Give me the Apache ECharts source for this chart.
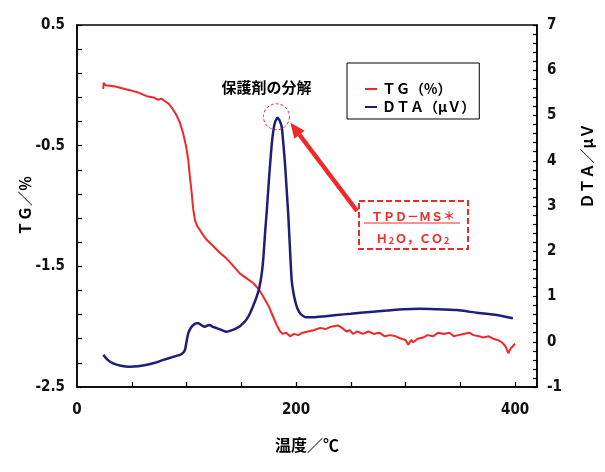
<!DOCTYPE html>
<html>
<head>
<meta charset="utf-8">
<script src="https://cdn.jsdelivr.net/npm/echarts@6/dist/echarts.min.js"></script>
<style>
  html, body { margin: 0; padding: 0; background: #fff; }
  #chart { width: 605px; height: 472px; }
</style>
</head>
<body>
<div id="chart"></div>
<script>
// TG curve (temperature / °C, TG / %)
var tgTemp = [24, 24.3, 26, 35, 48, 56, 63.6, 70, 74, 77, 80, 83.4, 87, 91, 94, 97, 99.5, 101.6, 103, 104.7,
  106, 107.7, 110, 112.3, 115, 118.4, 124, 130.6, 136, 142, 148.8, 155, 161, 166, 170, 175, 179.2, 182.5,
  185.4, 188, 191, 194.5, 198, 202, 206, 211, 216, 222, 227, 232, 238, 242, 246, 249, 252, 256, 261, 266,
  271, 276, 281, 286, 291, 296, 300, 302.5, 305, 307, 311, 316, 320, 325, 330, 335, 340, 344, 348, 353,
  358, 362, 367, 371, 376, 380, 384, 388, 391, 393.8, 396, 398, 400];
var tgValue = [-0.03, 0.02, 0.00, -0.01, -0.04, -0.06, -0.09, -0.10, -0.12, -0.11, -0.13, -0.15, -0.19, -0.25,
  -0.31, -0.40, -0.50, -0.62, -0.75, -0.89, -1.02, -1.12, -1.17, -1.20, -1.24, -1.28, -1.33, -1.39, -1.43,
  -1.49, -1.56, -1.60, -1.64, -1.69, -1.75, -1.83, -1.92, -1.99, -2.04, -2.06, -2.05, -2.08, -2.06, -2.07,
  -2.05, -2.04, -2.03, -2.01, -2.02, -2.00, -1.99, -2.01, -2.04, -2.03, -2.06, -2.04, -2.06, -2.04, -2.06,
  -2.05, -2.08, -2.07, -2.08, -2.10, -2.11, -2.15, -2.11, -2.13, -2.10, -2.09, -2.07, -2.08, -2.05, -2.06,
  -2.05, -2.08, -2.07, -2.06, -2.05, -2.07, -2.08, -2.09, -2.08, -2.10, -2.11, -2.13, -2.16, -2.22, -2.18,
  -2.16, -2.14];

// DTA curve (temperature / °C, DTA / μV)
var dtaTemp = [24, 28, 33, 40, 48, 56, 64, 72, 79, 87, 94, 97, 98.6, 100, 101.6, 104, 106.2, 109, 111, 114,
  116.9, 119, 121.4, 124, 127.6, 132, 136.7, 141, 145.8, 149, 151.9, 155, 158, 161, 164.1, 166.5, 168.7,
  170.3, 171.7, 173.3, 174.8, 176.4, 177.9, 179.5, 180.9, 183, 184.8, 186.9, 188.5, 190.1, 191.6, 193,
  194.5, 196, 197.5, 199, 201, 203.6, 206.5, 209.7, 215.8, 225, 237, 250, 267.5, 283, 298, 313, 328, 347,
  365, 383, 398];
var dtaValue = [-0.29, -0.40, -0.48, -0.53, -0.55, -0.54, -0.51, -0.46, -0.40, -0.34, -0.29, -0.24, -0.18,
  0.00, 0.19, 0.31, 0.37, 0.41, 0.41, 0.36, 0.33, 0.36, 0.37, 0.33, 0.30, 0.26, 0.22, 0.25, 0.30, 0.35,
  0.41, 0.50, 0.63, 0.80, 1.00, 1.20, 1.51, 1.90, 2.40, 2.90, 3.43, 3.95, 4.39, 4.70, 4.86, 4.95, 4.90,
  4.75, 4.35, 3.87, 3.30, 2.76, 2.03, 1.36, 1.10, 0.92, 0.75, 0.63, 0.57, 0.54, 0.54, 0.56, 0.59, 0.62,
  0.66, 0.69, 0.72, 0.73, 0.72, 0.70, 0.64, 0.59, 0.52];

// tick labels / tick positions
var xLabels = [0, 200, 400];
var xTicks = [50, 100, 150, 200, 250, 300, 350, 400];
var tgLabels = [0.5, -0.5, -1.5, -2.5];
var tgTicks = [0.5, 0.3, 0.1, -0.1, -0.3, -0.5, -0.7, -0.9, -1.1, -1.3, -1.5, -1.7, -1.9, -2.1, -2.3, -2.5];
var dtaLabels = [-1, 0, 1, 2, 3, 4, 5, 6, 7];
var dtaTicks = [-1, -0.8, -0.6, -0.4, -0.2, 0, 0.2, 0.4, 0.6, 0.8, 1, 1.2, 1.4, 1.6, 1.8, 2, 2.2, 2.4, 2.6, 2.8,
  3, 3.2, 3.4, 3.6, 3.8, 4, 4.2, 4.4, 4.6, 4.8, 5, 5.2, 5.4, 5.6, 5.8, 6, 6.2, 6.4, 6.6, 6.8, 7];

var tgName = 'ＴＧ（%）';
var dtaName = 'ＤＴＡ（μＶ）';

var RED = '#f02828';
var BLUE = '#1e1e7a';
var tickFont = { fontFamily: '"Liberation Sans Narrow", "DejaVu Sans Condensed", "Liberation Sans", sans-serif', fontWeight: 'bold', fontSize: 15, color: '#111' };
var jp = '"Noto Sans CJK JP", sans-serif';
var tickLine = { color: '#000', width: 1.2 };

function pairs(xs, ys) {
  return xs.map(function (x, i) { return [x, ys[i]]; });
}

var chart = echarts.init(document.getElementById('chart'));

chart.setOption({
  animation: false,
  backgroundColor: '#fff',
  grid: {
    left: 77, right: 68, top: 25, bottom: 85,
    show: true, borderColor: '#000', borderWidth: 1.5, backgroundColor: 'transparent'
  },
  legend: {
    left: 347, top: 63,
    orient: 'vertical',
    backgroundColor: '#fff',
    borderColor: '#000', borderWidth: 1,
    borderRadius: 0,
    padding: [19, 4, 5, 18],
    itemGap: 4,
    itemWidth: 12, itemHeight: 2,
    icon: 'rect',
    textStyle: { fontFamily: jp, fontSize: 14, fontWeight: 'bold', color: '#000' },
    data: [tgName, dtaName]
  },
  xAxis: {
    type: 'value',
    min: 0, max: 420,
    name: '温度／℃',
    nameLocation: 'middle',
    nameGap: 50,
    nameTextStyle: { fontFamily: jp, fontWeight: 'bold', fontSize: 16, color: '#000' },
    axisLine: { show: true, onZero: false, lineStyle: { color: '#000', width: 1.5 } },
    axisTick: { show: true, inside: true, length: 5, customValues: xTicks, lineStyle: tickLine },
    axisLabel: Object.assign({ customValues: xLabels, margin: 16 }, tickFont),
    splitLine: { show: false }
  },
  yAxis: [
    {
      type: 'value',
      min: -2.5, max: 0.5,
      name: 'ＴＧ／％',
      nameLocation: 'middle',
      nameGap: 44,
      nameMoveOverlap: false,
      nameTextStyle: { fontFamily: jp, fontWeight: 'bold', fontSize: 15, color: '#000' },
      axisLine: { show: true, onZero: false, lineStyle: { color: '#000', width: 1.5 } },
      axisTick: { show: true, inside: true, length: 5, customValues: tgTicks, lineStyle: tickLine },
      axisLabel: Object.assign({ customValues: tgLabels, margin: 12 }, tickFont),
      splitLine: { show: false }
    },
    {
      type: 'value',
      min: -1, max: 7,
      axisLine: { show: true, onZero: false, lineStyle: { color: '#000', width: 1.5 } },
      axisTick: { show: true, inside: true, length: 4, customValues: dtaTicks, lineStyle: tickLine },
      axisLabel: Object.assign({ customValues: dtaLabels, margin: 10 }, tickFont),
      splitLine: { show: false }
    }
  ],
  series: [
    {
      name: tgName,
      type: 'line',
      yAxisIndex: 0,
      data: pairs(tgTemp, tgValue),
      showSymbol: false,
      lineStyle: { color: RED, width: 2 },
      itemStyle: { color: RED }
    },
    {
      name: dtaName,
      type: 'line',
      yAxisIndex: 1,
      data: pairs(dtaTemp, dtaValue),
      showSymbol: false,
      smooth: 0.15,
      lineStyle: { color: BLUE, width: 2.5 },
      itemStyle: { color: BLUE }
    }
  ]
});

// annotations: anchored to the DTA peak
var peakIdx = dtaValue.indexOf(Math.max.apply(null, dtaValue));
var peak = chart.convertToPixel({ xAxisIndex: 0, yAxisIndex: 1 }, [dtaTemp[peakIdx], dtaValue[peakIdx]]);
var cx = peak[0] - 1, cy = peak[1] - 1;
var tip = [cx + 14, cy + 6];
var tail = [357, 211];
var dx = tip[0] - tail[0], dy = tip[1] - tail[1];
var len = Math.sqrt(dx * dx + dy * dy);
var ux = dx / len, uy = dy / len;
var base = [tip[0] - ux * 15, tip[1] - uy * 15];
var px = -uy * 6.5, py = ux * 6.5;

chart.setOption({
  graphic: [
    {
      type: 'text',
      x: 587, y: 166,
      rotation: Math.PI / 2,
      style: {
        text: 'ＤＴＡ／μＶ', font: 'bold 15px "Noto Sans CJK JP", sans-serif', fill: '#000',
        align: 'center', verticalAlign: 'middle'
      },
      z: 100
    },
    {
      type: 'circle',
      shape: { cx: cx, cy: cy, r: 13 },
      style: { fill: 'none', stroke: RED, lineWidth: 1, lineDash: [3, 2] },
      z: 100
    },
    {
      type: 'text',
      left: cx - 55, top: 80,
      style: { text: '保護剤の分解', font: 'bold 15px "Noto Sans CJK JP", sans-serif', fill: '#000' },
      z: 100
    },
    {
      type: 'polyline',
      shape: { points: [tail, base] },
      style: { stroke: RED, lineWidth: 4.5, fill: 'none' },
      z: 100
    },
    {
      type: 'polygon',
      shape: { points: [tip, [base[0] + px, base[1] + py], [base[0] - px, base[1] - py]] },
      style: { fill: RED },
      z: 100
    },
    {
      type: 'rect',
      shape: { x: 359, y: 201, width: 109, height: 48 },
      style: { fill: '#fff', stroke: RED, lineWidth: 2, lineDash: [6, 3] },
      z: 100
    },
    {
      type: 'text',
      x: 413, y: 216,
      style: {
        text: 'ＴＰＤ－ＭＳ＊', font: 'bold 12px "Noto Sans CJK JP", sans-serif', fill: RED,
        align: 'center', verticalAlign: 'middle'
      },
      z: 101
    },
    {
      type: 'line',
      shape: { x1: 364, y1: 223, x2: 460, y2: 223 },
      style: { stroke: RED, lineWidth: 1 },
      z: 101
    },
    {
      type: 'text',
      x: 413, y: 238,
      style: {
        text: 'Ｈ{s|2}Ｏ，ＣＯ{s|2}',
        font: 'bold 12px "Noto Sans CJK JP", sans-serif', fill: RED,
        align: 'center', verticalAlign: 'middle',
        rich: { s: { font: 'bold 9px "Noto Sans CJK JP", sans-serif', fill: RED, padding: [6, 1, 0, 1] } }
      },
      z: 101
    }
  ]
});
</script>
</body>
</html>
